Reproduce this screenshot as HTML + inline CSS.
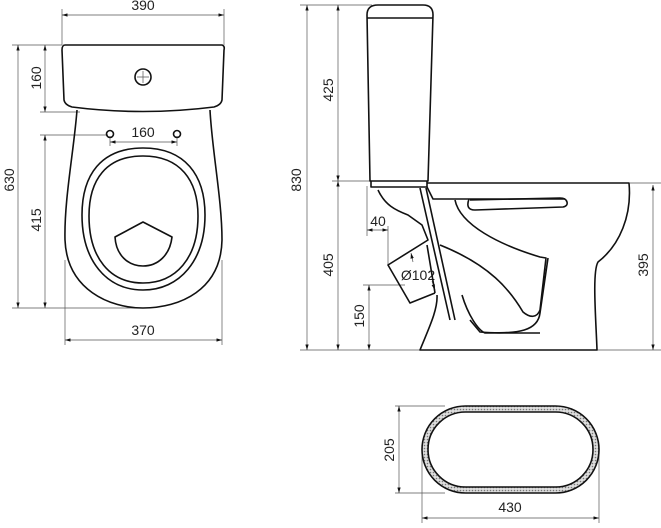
<!DOCTYPE html>
<html><head><meta charset="utf-8"><style>
html,body{margin:0;padding:0;background:#fff}
svg{display:block}
text{font-family:"Liberation Sans",sans-serif;font-size:14px;fill:#222}
.o{fill:none;stroke:#111;stroke-width:1.6;stroke-linejoin:round}
.d{fill:none;stroke:#555;stroke-width:.7}
</style></head><body>
<svg width="661" height="528" viewBox="0 0 661 528" xmlns="http://www.w3.org/2000/svg">
<defs>
<marker id="a" viewBox="0 0 10 6" refX="10" refY="3" markerWidth="8" markerHeight="5" orient="auto-start-reverse"><path d="M0,0 L10,3 L0,6 Z" fill="#111"/></marker>
<pattern id="h" width="3" height="3" patternUnits="userSpaceOnUse"><rect width="3" height="3" fill="#ddd"/><circle cx="1.5" cy="1.5" r="0.8" fill="#777"/></pattern>
</defs>

<!-- FRONT VIEW -->
<g class="d">
<line x1="62" y1="9" x2="62" y2="45"/><line x1="224" y1="9" x2="224" y2="45"/>
<line x1="62" y1="15" x2="224" y2="15" marker-start="url(#a)" marker-end="url(#a)"/>
<line x1="12" y1="45" x2="62" y2="45"/><line x1="12" y1="308" x2="143" y2="308"/>
<line x1="40" y1="112" x2="80" y2="112"/><line x1="40" y1="135" x2="108" y2="135"/>
<line x1="18" y1="45" x2="18" y2="308" marker-start="url(#a)" marker-end="url(#a)"/>
<line x1="45" y1="45" x2="45" y2="112" marker-start="url(#a)" marker-end="url(#a)"/>
<line x1="45" y1="135" x2="45" y2="308" marker-start="url(#a)" marker-end="url(#a)"/>
<line x1="110" y1="136" x2="110" y2="146"/><line x1="177" y1="136" x2="177" y2="146"/>
<line x1="110" y1="142" x2="177" y2="142" marker-start="url(#a)" marker-end="url(#a)"/>
<line x1="65" y1="260" x2="65" y2="345"/><line x1="222" y1="260" x2="222" y2="345"/>
<line x1="65" y1="340" x2="222" y2="340" marker-start="url(#a)" marker-end="url(#a)"/>
</g>
<text x="143" y="10" text-anchor="middle">390</text>
<text x="143" y="137" text-anchor="middle">160</text>
<text x="143" y="335" text-anchor="middle">370</text>
<text transform="translate(14,180) rotate(-90)" text-anchor="middle">630</text>
<text transform="translate(41,78) rotate(-90)" text-anchor="middle">160</text>
<text transform="translate(41,220) rotate(-90)" text-anchor="middle">415</text>

<path class="o" d="M65,45 L222,45 Q225,46 224,50 L222,100 Q221,105 214,107 Q143,116 72,107 Q65,105 64,100 L62,50 Q62,45 65,45 Z"/>
<circle class="o" cx="143" cy="77" r="8" stroke-width="1.2"/>
<path class="d" d="M137,77 H149 M143,71 V83"/>
<path class="o" d="M77,110 C74,150 64,200 65,240 C67,290 110,308 143,308 C180,308 221,290 222,240 C222,200 212,150 210,110"/>
<circle class="o" cx="110" cy="134" r="3.5" stroke-width="1"/>
<circle class="o" cx="177" cy="134" r="3.5" stroke-width="1"/>
<path class="o" d="M143,148 C185,148 205,175 205,215 C205,260 180,290 143,290 C106,290 82,260 82,215 C82,175 101,148 143,148 Z"/>
<path class="o" d="M143,156 C180,156 198,180 198,216 C198,258 176,283 143,283 C110,283 89,258 89,216 C89,180 106,156 143,156 Z"/>
<path class="o" d="M115,237 L143,222 L172,237 C170,255 158,266 143,266 C128,266 116,255 115,237 Z"/>

<!-- SIDE VIEW -->
<g class="d">
<line x1="300" y1="5" x2="372" y2="5"/><line x1="300" y1="350" x2="420" y2="350"/>
<line x1="332" y1="181" x2="372" y2="181"/><line x1="363" y1="285" x2="405" y2="285"/>
<line x1="630" y1="183" x2="661" y2="183"/><line x1="597" y1="350" x2="661" y2="350"/>
<line x1="307" y1="5" x2="307" y2="350" marker-start="url(#a)" marker-end="url(#a)"/>
<line x1="338" y1="5" x2="338" y2="181" marker-start="url(#a)" marker-end="url(#a)"/>
<line x1="338" y1="181" x2="338" y2="350" marker-start="url(#a)" marker-end="url(#a)"/>
<line x1="369" y1="285" x2="369" y2="350" marker-start="url(#a)" marker-end="url(#a)"/>
<line x1="653" y1="185" x2="653" y2="350" marker-start="url(#a)" marker-end="url(#a)"/>
<line x1="367" y1="186" x2="367" y2="236"/><line x1="388" y1="226" x2="388" y2="265"/>
<line x1="367" y1="230" x2="388" y2="230" marker-start="url(#a)" marker-end="url(#a)"/>
<line x1="413" y1="262" x2="411" y2="253" marker-end="url(#a)"/>
<line x1="432" y1="281" x2="435" y2="290" marker-end="url(#a)"/>
</g>
<text transform="translate(301,180) rotate(-90)" text-anchor="middle">830</text>
<text transform="translate(333,90) rotate(-90)" text-anchor="middle">425</text>
<text transform="translate(333,265) rotate(-90)" text-anchor="middle">405</text>
<text transform="translate(364,316) rotate(-90)" text-anchor="middle">150</text>
<text transform="translate(648,265) rotate(-90)" text-anchor="middle">395</text>
<text x="378" y="226" text-anchor="middle">40</text>
<text x="418" y="280" text-anchor="middle">Ø102</text>

<path class="o" d="M370,181 L367,15 Q367,5 378,5 L423,5 Q433,5 433,15 L428,181 Z"/>
<line class="o" x1="367" y1="18" x2="433" y2="18"/>
<path class="o" d="M371,181 L371,187 L427,187 L427,181"/>
<path class="o" d="M427,183 L629,183 C632,215 620,245 598,262 C592,272 596,320 597,350 L420,350 C428,330 438,310 437,295"/>
<path class="o" d="M427,187 L433,199 L565,199"/>
<path class="o" d="M469,199 Q465,210 475,210 L563,207 Q568,206 567,202 Q566,198 560,198 L470,200"/>
<path class="o" d="M455,200 C460,225 500,245 540,257 L546,258 L540,310 C537,318 530,318 523,312 C510,290 490,265 440,245"/>
<path class="o" d="M548,258 L540,313 C538,330 520,335 480,332 L470,320"/>
<path class="o" d="M462,295 C468,315 478,330 485,333 L540,333"/>
<path class="o" d="M378,190 C385,205 395,210 408,215 L422,225 L428,240 L388,265 L410,303 L435,293"/>
<path class="o" d="M427,245 L435,293"/>
<line class="o" x1="420" y1="188" x2="450" y2="320"/>
<line class="o" x1="426" y1="188" x2="455" y2="320"/>

<!-- OVAL -->
<g class="d">
<line x1="395" y1="406" x2="445" y2="406"/><line x1="395" y1="493" x2="445" y2="493"/>
<line x1="399" y1="406" x2="399" y2="493" marker-start="url(#a)" marker-end="url(#a)"/>
<line x1="422" y1="450" x2="422" y2="523"/><line x1="599" y1="450" x2="599" y2="523"/>
<line x1="422" y1="518" x2="599" y2="518" marker-start="url(#a)" marker-end="url(#a)"/>
</g>
<text transform="translate(394,450) rotate(-90)" text-anchor="middle">205</text>
<text x="510" y="512" text-anchor="middle">430</text>
<rect x="422" y="406" width="177" height="87" rx="43.5" fill="url(#h)" stroke="#111" stroke-width="1.6"/>
<rect x="428" y="412" width="165" height="75" rx="37.5" fill="#fff" stroke="#111" stroke-width="1.6"/>
</svg>
</body></html>
